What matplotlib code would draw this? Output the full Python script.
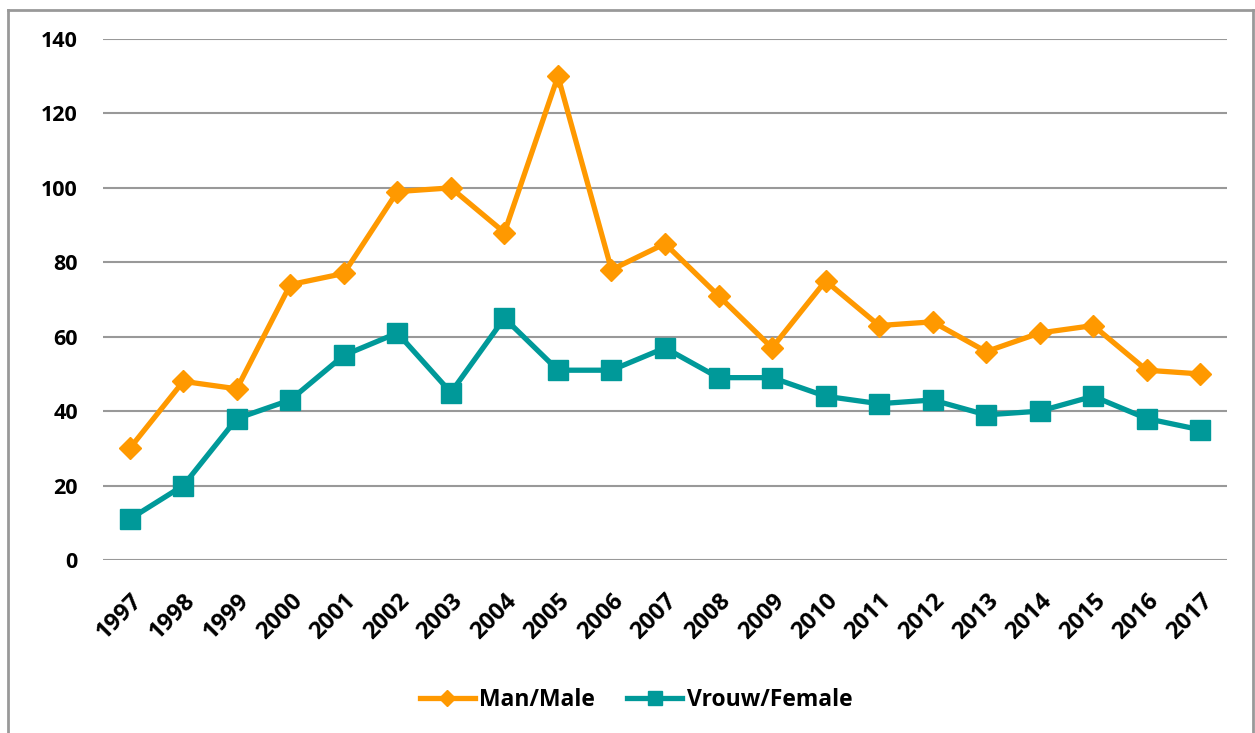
import matplotlib
matplotlib.use("Agg")
import matplotlib.pyplot as plt
from matplotlib.lines import Line2D

years = [str(y) for y in range(1997, 2018)]
male = [30, 48, 46, 74, 77, 99, 100, 88, 130, 78, 85, 71, 57, 75, 63, 64, 56, 61, 63, 51, 50]
female = [11, 20, 38, 43, 55, 61, 45, 65, 51, 51, 57, 49, 49, 44, 42, 43, 39, 40, 44, 38, 35]
yticks = [0, 20, 40, 60, 80, 100, 120, 140]

plt.rcParams['font.family'] = ['Open Sans', 'DejaVu Sans']
plt.rcParams['font.weight'] = 'bold'

W, H = 1255, 733
fig = plt.figure(figsize=(W / 100, H / 100), dpi=100)
ax = fig.add_axes([103 / W, 1 - 560 / H, (1227 - 103) / W, (560 - 39) / H])

x = list(range(len(years)))
ax.plot(x, male, color='#FF9900', lw=3.8, marker='D', ms=11, label='Man/Male', zorder=3)
ax.plot(x, female, color='#009999', lw=3.8, marker='s', ms=14, label='Vrouw/Female', zorder=3)

ax.set_xlim(-0.5, len(years) - 0.5)
ax.set_ylim(0, 140)
ax.set_yticks(yticks)
ax.set_yticklabels([str(v) for v in yticks], fontsize=15.5, fontweight='bold')
ax.set_xticks(x)
ax.set_xticklabels(years, rotation=45, ha='right', rotation_mode='anchor', fontsize=17, fontweight='bold')
ax.tick_params(axis='y', length=0, pad=18)
ax.tick_params(axis='x', length=0, pad=21)
ax.grid(axis='y', color='#999999', lw=1.5)
ax.set_axisbelow(True)
for s in ax.spines.values():
    s.set_visible(False)

leg = fig.legend(loc='center', bbox_to_anchor=(0.507, 1 - 700 / H), ncol=2, frameon=False,
                 prop={'size': 16.5, 'weight': 'bold'}, handlelength=2.4, columnspacing=1.4,
                 handletextpad=0.2, markerscale=0.7)

# outer frame
fig.add_artist(Line2D([8 / W, 8 / W], [0, 1 - 10 / H], color='#999999', lw=2, transform=fig.transFigure))
fig.add_artist(Line2D([8 / W, 1253 / W], [1 - 10 / H, 1 - 10 / H], color='#999999', lw=2, transform=fig.transFigure))
fig.add_artist(Line2D([1253 / W, 1253 / W], [0, 1 - 10 / H], color='#999999', lw=2, transform=fig.transFigure))

fig.savefig('out.png', dpi=100)
